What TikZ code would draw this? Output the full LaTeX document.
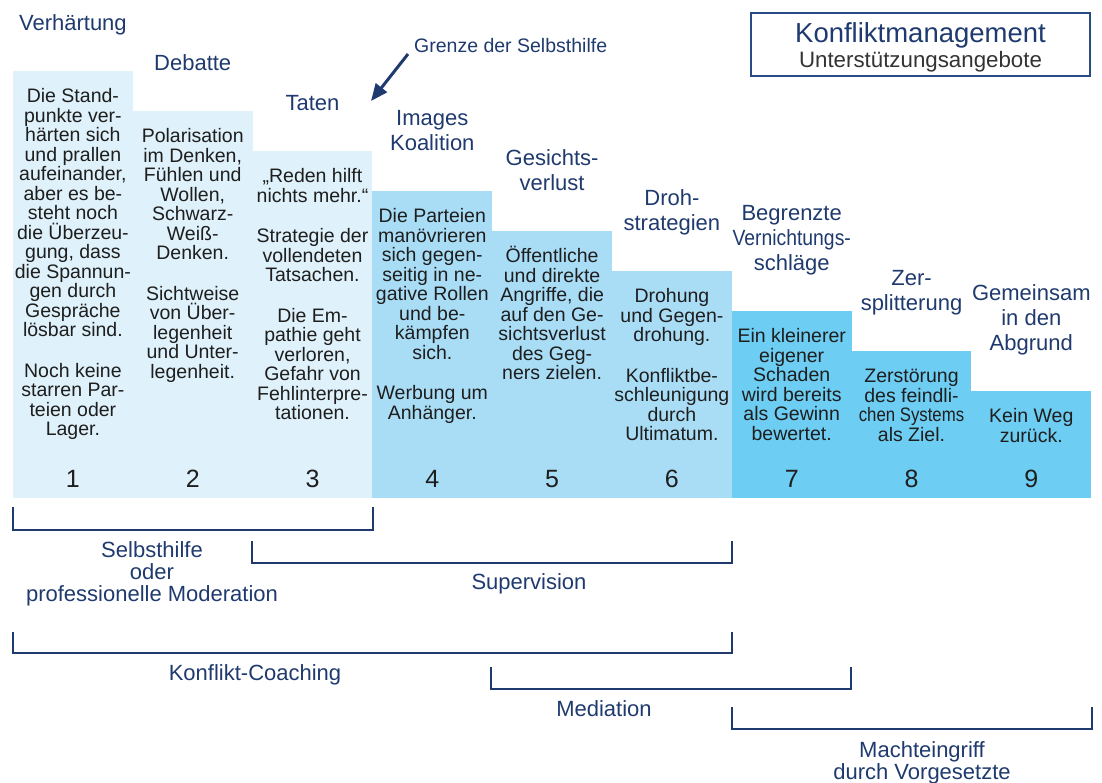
\documentclass[tikz,border=0pt]{standalone}
\usepackage{fontspec}
\setmainfont{Liberation Sans}
\usetikzlibrary{arrows.meta}
\definecolor{navy}{HTML}{1F3A6E}
\definecolor{boxnavy}{HTML}{2A4A86}
\definecolor{bodytxt}{HTML}{1E1E1E}
\definecolor{subtxt}{HTML}{333333}
\definecolor{stepA}{HTML}{DFF1FA}
\definecolor{stepB}{HTML}{A9DDF6}
\definecolor{stepC}{HTML}{6DCDF2}
\newcommand\hdstrut{\rule[-5pt]{0pt}{5pt}}
\newcommand\bdstrut{\rule{0pt}{18pt}}
\newcommand\lbstrut{\rule{0pt}{17pt}}
\begin{document}
\begin{tikzpicture}[x=1pt,y=-1pt,
  heading/.style={anchor=south, inner sep=0, align=center, text=navy, font=\fontsize{22}{25}\selectfont},
  bodytext/.style={anchor=north, inner sep=0, align=center, text=bodytxt, font=\fontsize{19.5}{19.5}\selectfont},
  num/.style={anchor=base, inner sep=0, text=bodytxt, font=\fontsize{25}{25}\selectfont},
  lbl/.style={inner sep=0, align=center, text=navy, font=\fontsize{22}{22}\selectfont},
  bracket/.style={draw=navy, line width=2.6pt, line join=miter},
  titlebox/.style={draw=boxnavy, line width=1.7pt, minimum width=339pt, minimum height=63pt, inner sep=0}]
\useasboundingbox (0,0) rectangle (1102,782);

% step columns
\fill[stepA] (13,70.5) rectangle (132.8,498);
\fill[stepA] (132.8,110.5) rectangle (252.6,498);
\fill[stepA] (252.6,150.5) rectangle (372.4,498);
\fill[stepB] (372.4,190.5) rectangle (492.2,498);
\fill[stepB] (492.2,230.5) rectangle (612,498);
\fill[stepB] (612,270.5) rectangle (731.8,498);
\fill[stepC] (731.8,310.5) rectangle (851.6,498);
\fill[stepC] (851.6,350.5) rectangle (971.4,498);
\fill[stepC] (971.4,390.5) rectangle (1091.2,498);

% headings
\node[heading] (h1) at (72.9,35.5) {Verhärtung\hdstrut};
\node[heading] (h2) at (192.7,75.5) {Debatte\hdstrut};
\node[heading] (h3) at (312.5,115.5) {Taten\hdstrut};
\node[heading] (h4) at (432.3,155.5) {Images\\Koalition\hdstrut};
\node[heading] (h5) at (552.1,195.5) {Gesichts-\\verlust\hdstrut};
\node[heading] (h6) at (671.9,235.5) {Droh-\\strategien\hdstrut};
\node[heading] (h7) at (791.7,275.5) {Begrenzte\\\scalebox{0.88}[1]{Vernichtungs-}\\schläge\hdstrut};
\node[heading] (h8) at (911.5,315.5) {Zer-\\splitterung\hdstrut};
\node[heading] (h9) at (1031.3,355.5) {Gemeinsam\\in den\\Abgrund\hdstrut};

% body texts
\node[bodytext] (b1) at (72.9,84.5) {\bdstrut Die Stand-\\punkte ver-\\härten sich\\und prallen\\aufeinander,\\aber es be-\\steht noch\\die Überzeu-\\gung, dass\\die Spannun-\\gen durch\\Gespräche\\lösbar sind.\\[21pt]Noch keine\\starren Par-\\teien oder\\Lager.};
\node[bodytext] (b2) at (192.7,124.5) {\bdstrut Polarisation\\im Denken,\\Fühlen und\\Wollen,\\Schwarz-\\Weiß-\\Denken.\\[21pt]Sichtweise\\von Über-\\legenheit\\und Unter-\\legenheit.};
\node[bodytext] (b3) at (312.5,164.5) {\bdstrut „Reden hilft\\nichts mehr.“\\[21pt]Strategie der\\vollendeten\\Tatsachen.\\[21pt]Die Em-\\pathie geht\\verloren,\\Gefahr von\\Fehlinterpre-\\tationen.};
\node[bodytext] (b4) at (432.3,204.5) {\bdstrut Die Parteien\\manövrieren\\sich gegen-\\seitig in ne-\\gative Rollen\\und be-\\kämpfen\\sich.\\[21pt]Werbung um\\Anhänger.};
\node[bodytext] (b5) at (552.1,244.5) {\bdstrut Öffentliche\\und direkte\\Angriffe, die\\auf den Ge-\\sichtsverlust\\des Geg-\\ners zielen.};
\node[bodytext] (b6) at (671.9,284.5) {\bdstrut Drohung\\und Gegen-\\drohung.\\[21pt]Konfliktbe-\\schleunigung\\durch\\Ultimatum.};
\node[bodytext] (b7) at (791.7,324.5) {\bdstrut Ein kleinerer\\eigener\\Schaden\\wird bereits\\als Gewinn\\bewertet.};
\node[bodytext] (b8) at (911.5,364.5) {\bdstrut Zerstörung\\des feindli-\\\scalebox{0.86}[1]{chen Systems}\\als Ziel.};
\node[bodytext] (b9) at (1031.3,404.5) {\bdstrut Kein Weg\\zurück.};

% numbers
\node[num] (n1) at (72.9,487) {1};
\node[num] (n2) at (192.7,487) {2};
\node[num] (n3) at (312.5,487) {3};
\node[num] (n4) at (432.3,487) {4};
\node[num] (n5) at (552.1,487) {5};
\node[num] (n6) at (671.9,487) {6};
\node[num] (n7) at (791.7,487) {7};
\node[num] (n8) at (911.5,487) {8};
\node[num] (n9) at (1031.3,487) {9};

% title box
\node[titlebox] (tbox) at (920.5,44.5) {};
\node[anchor=base, inner sep=0, text=navy, font=\fontsize{27.5}{27.5}\selectfont] (t1) at (920.5,42) {Konfliktmanagement};
\node[anchor=base, inner sep=0, text=subtxt, font=\fontsize{22.3}{22.3}\selectfont] (t2) at (920.5,67) {Unterstützungsangebote};

% Grenze der Selbsthilfe
\node[anchor=base west, inner sep=0, text=navy, font=\fontsize{19.5}{19.5}\selectfont] (grenze) at (414,52) {Grenze der Selbsthilfe};
\coordinate (arrto) at (371,101);
\draw[navy, line width=3pt, -{Triangle[length=17pt,width=14pt]}] ([shift={(-6,2)}]grenze.base west) -- (arrto);

% brackets
\draw[bracket] (13,507) |- (373,530) -- (373,507);
\draw[bracket] (252,541) |- (732,563) -- (732,541);
\draw[bracket] (13,632) |- (732,653) -- (732,632);
\draw[bracket] (491,667) |- (851,689) -- (851,667);
\draw[bracket] (732,707) |- (1092,729) -- (1092,707);

% bracket labels
\node[lbl, anchor=north] (l1) at (152,540) {\lbstrut Selbsthilfe\\oder\\professionelle Moderation};
\node[lbl, anchor=base] (l2) at (529,589) {Supervision};
\node[lbl, anchor=base] (l3) at (255,680) {Konflikt-Coaching};
\node[lbl, anchor=base] (l4) at (604,716) {Mediation};
\node[lbl, anchor=north] (l5) at (922,740) {\lbstrut Machteingriff\\durch Vorgesetzte};
\end{tikzpicture}
\end{document}
